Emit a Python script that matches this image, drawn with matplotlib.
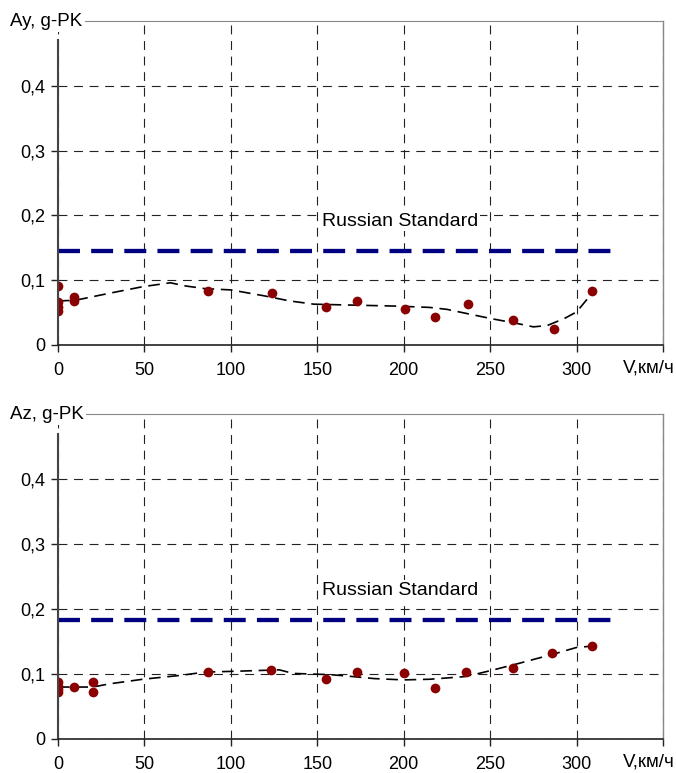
import numpy as np
import matplotlib
matplotlib.use("Agg")
import matplotlib.pyplot as plt
from matplotlib.ticker import FuncFormatter

plt.rcParams['font.family'] = ['Liberation Sans', 'DejaVu Sans']

# ---------------------------------------------------------------- data
# Ay (top panel)
ay_v = [0, 0, 0, 0, 9, 9, 87, 124, 155, 173, 201, 218, 237, 263, 287, 309]
ay_g = [0.091, 0.067, 0.059, 0.052, 0.074, 0.068, 0.084, 0.080, 0.058, 0.068,
        0.056, 0.043, 0.064, 0.038, 0.024, 0.083]
ay_trend_v = [0, 10, 30, 49, 65, 74, 85, 100, 119, 134, 148, 163, 196, 215, 225,
              250, 266, 275, 283, 293, 300, 309]
ay_trend_g = [0.068, 0.069, 0.080, 0.090, 0.096, 0.091, 0.087, 0.085, 0.076, 0.068,
              0.063, 0.062, 0.060, 0.058, 0.055, 0.041, 0.033, 0.028, 0.030, 0.041,
              0.051, 0.080]
ay_std = 0.145

# Az (bottom panel)
az_v = [0, 0, 0, 0, 9, 20, 20, 87, 123, 155, 173, 200, 218, 236, 263, 286, 309]
az_g = [0.088, 0.082, 0.077, 0.072, 0.080, 0.087, 0.073, 0.103, 0.106, 0.092,
        0.103, 0.101, 0.078, 0.103, 0.110, 0.132, 0.143]
az_trend_v = [0, 20, 30, 49, 71, 85, 105, 128, 136, 158, 167, 183, 200, 215, 235,
              242, 252, 266, 287, 300, 309]
az_trend_g = [0.080, 0.080, 0.085, 0.092, 0.098, 0.103, 0.1045, 0.1065, 0.101, 0.099,
              0.097, 0.093, 0.091, 0.092, 0.096, 0.100, 0.1065, 0.116, 0.131, 0.141,
              0.143]
az_std = 0.183

std_v = [0, 320]
xticks = [0, 50, 100, 150, 200, 250, 300, 350]
xticklabels = ['0', '50', '100', '150', '200', '250', '300', '']
yticks = [0, 0.1, 0.2, 0.3, 0.4]

# ---------------------------------------------------------------- plot
fig = plt.figure(figsize=(6.76, 7.73), dpi=100)
ax1 = fig.add_axes([0.0858, 0.5537, 0.8950, 0.4191])
ax2 = fig.add_axes([0.0858, 0.0440, 0.8950, 0.4200])

def draw(ax, v, g, tv, tg, std, ylab):
    ax.set_xlim(0, 350)
    ax.set_ylim(0, 0.5)
    ax.set_xticks(xticks)
    ax.set_xticklabels(xticklabels)
    ax.set_yticks(yticks)
    ax.yaxis.set_major_formatter(FuncFormatter(lambda y, p: ('%g' % round(y, 2)).replace('.', ',')))
    ax.tick_params(axis='both', labelsize=13, colors='#222222', length=5, width=1,
                   labelcolor='black')
    ax.tick_params(axis='x', pad=7)
    ax.tick_params(axis='y', pad=4)
    ax.grid(True, color='#222222', linestyle=(0, (8, 6)), linewidth=0.8)
    ax.set_axisbelow(True)
    ax.spines['left'].set_bounds(0, 0.47)
    ax.spines['left'].set_color('#444444')
    ax.spines['left'].set_linewidth(1.5)
    ax.spines['bottom'].set_color('#222222')
    ax.spines['bottom'].set_linewidth(1.2)
    ax.spines['top'].set_color('#888888')
    ax.spines['right'].set_color('#888888')
    ax.spines['right'].set_linewidth(1.0)

    ax.plot(std_v, [std, std], color='#000080', linewidth=3.1, linestyle=(0, (5.1, 2.6)),
            solid_capstyle='butt', dash_capstyle='butt')
    ax.text(198, std + 0.046, 'Russian Standard', fontsize=14, ha='center', va='center',
            bbox=dict(facecolor='white', edgecolor='none', pad=1.0))
    ax.plot(tv, tg, color='black', linewidth=1.2, linestyle=(0, (7, 4)))
    ax.plot(v, g, 'o', color='#8B0000', markersize=7, markeredgewidth=0)

    ax.text(-0.079, 1.0, ylab, transform=ax.transAxes, fontsize=13.5, ha='left',
            va='center', bbox=dict(facecolor='white', edgecolor='none', pad=1.5))
    ax.text(0.977, -0.070, 'V,км/ч', transform=ax.transAxes, fontsize=13.5,
            ha='center', va='center')

draw(ax1, ay_v, ay_g, ay_trend_v, ay_trend_g, ay_std, 'Ay, g-PK')
draw(ax2, az_v, az_g, az_trend_v, az_trend_g, az_std, 'Az, g-PK')

plt.savefig('out.png', dpi=100)
